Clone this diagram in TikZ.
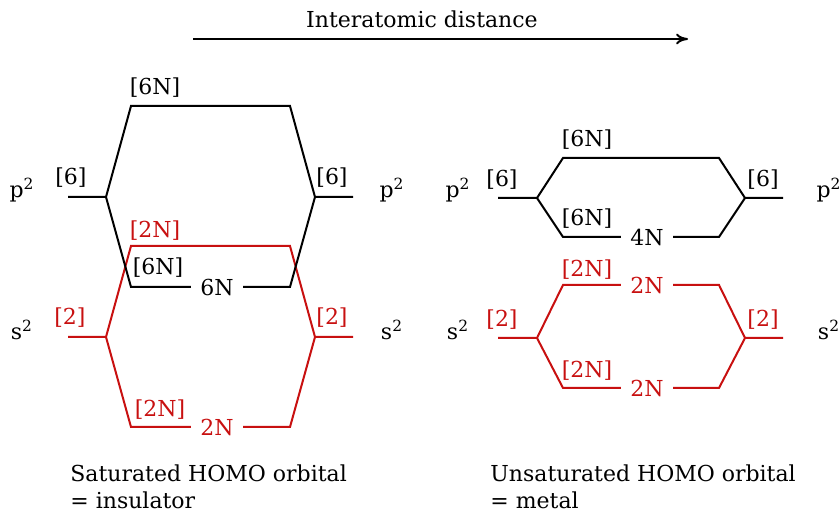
\documentclass[tikz,border=0pt]{standalone}
\usepackage{fontspec}
\setmainfont{DejaVu Serif}
\usepackage{xcolor}
\usepackage{tikz}
\usetikzlibrary{arrows,arrows.meta,calc}
\definecolor{bandred}{RGB}{200,16,16}
\tikzstyle{lvl}=[line width=1pt, line join=miter]
\tikzstyle{pband}=[lvl, draw=black]
\tikzstyle{sband}=[lvl, draw=bandred]
\tikzstyle{occ}=[inner xsep=4.5pt, inner ysep=1pt]
\tikzstyle{occred}=[occ, text=bandred]
\tikzstyle{degred}=[text=bandred]

\begin{document}
\begin{tikzpicture}[x=0.5pt,y=-0.5pt,font=\fontsize{11}{13.5}\selectfont]
\useasboundingbox (0,0) rectangle (840,512);

% distance axis
\coordinate (d0) at (193,39);
\coordinate (d1) at (688,39);
\node (dist) at (422,19) {Interatomic distance};
\draw[-{To[length=6pt,width=5.5pt]}, line width=1pt] (d0) -- (d1);

% saturated: s band
\coordinate (lsa) at (68,337);
\coordinate (lsj) at (106,337);
\coordinate (lst1) at (131,246);
\coordinate (lst2) at (290,246);
\coordinate (lsk) at (315,337);
\coordinate (lsb) at (353,337);
\coordinate (lsb1) at (131,427);
\coordinate (lsb2) at (290,427);
\node[occred] (lsn) at (217,427) {2N};
\draw[sband] (lsa) -- (lsj) -- (lst1) -- (lst2) -- (lsk) -- (lsb);
\draw[sband] (lsj) -- (lsb1) -- (lsn) -- (lsb2) -- (lsk);
\node (ls1) at (22,330) {s\textsuperscript{2}};
\node (ls2) at (392,330) {s\textsuperscript{2}};
\node[degred] (ls2a) at (70,318) {[2]};
\node[degred] (ls2b) at (332,318) {[2]};
\node[degred] (lsup) at (155,231) {[2N]};
\node[degred] (lsdn) at (160,410) {[2N]};

% saturated: p band
\coordinate (lpa) at (68,197);
\coordinate (lpj) at (106,197);
\coordinate (lpt1) at (131,106);
\coordinate (lpt2) at (290,106);
\coordinate (lpk) at (315,197);
\coordinate (lpb) at (353,197);
\coordinate (lpb1) at (131,287);
\coordinate (lpb2) at (290,287);
\node[occ] (lpn) at (217,287) {6N};
\draw[pband] (lpa) -- (lpj) -- (lpt1) -- (lpt2) -- (lpk) -- (lpb);
\draw[pband] (lpj) -- (lpb1) -- (lpn) -- (lpb2) -- (lpk);
\node (lp1) at (22,190) {p\textsuperscript{2}};
\node (lp2) at (392,190) {p\textsuperscript{2}};
\node (lp6a) at (71,178) {[6]};
\node (lp6b) at (332,178) {[6]};
\node (lpup) at (155,88) {[6N]};
\node (lpdn) at (158,268) {[6N]};

% unsaturated: s band
\coordinate (rsa) at (498,338);
\coordinate (rsj) at (537,338);
\coordinate (rst1) at (563,285);
\coordinate (rst2) at (719,285);
\coordinate (rsk) at (745,338);
\coordinate (rsb) at (783,338);
\coordinate (rsb1) at (563,388);
\coordinate (rsb2) at (719,388);
\node[occred] (rsn1) at (647,285) {2N};
\node[occred] (rsn2) at (647,388) {2N};
\draw[sband] (rsa) -- (rsj) -- (rst1) -- (rsn1) -- (rst2) -- (rsk) -- (rsb);
\draw[sband] (rsj) -- (rsb1) -- (rsn2) -- (rsb2) -- (rsk);
\node (rs1) at (458,330) {s\textsuperscript{2}};
\node (rs2) at (829,330) {s\textsuperscript{2}};
\node[degred] (rs2a) at (502,320) {[2]};
\node[degred] (rs2b) at (763,320) {[2]};
\node[degred] (rsup) at (587,270) {[2N]};
\node[degred] (rsdn) at (587,371) {[2N]};

% unsaturated: p band
\coordinate (rpa) at (498,198);
\coordinate (rpj) at (537,198);
\coordinate (rpt1) at (563,158);
\coordinate (rpt2) at (719,158);
\coordinate (rpk) at (745,198);
\coordinate (rpb) at (783,198);
\coordinate (rpb1) at (563,237);
\coordinate (rpb2) at (719,237);
\node[occ] (rpn) at (647,237) {4N};
\draw[pband] (rpa) -- (rpj) -- (rpt1) -- (rpt2) -- (rpk) -- (rpb);
\draw[pband] (rpj) -- (rpb1) -- (rpn) -- (rpb2) -- (rpk);
\node (rp1) at (458,190) {p\textsuperscript{2}};
\node (rp2) at (829,190) {p\textsuperscript{2}};
\node (rp6a) at (502,180) {[6]};
\node (rp6b) at (763,180) {[6]};
\node (rpup) at (587,140) {[6N]};
\node (rpdn) at (587,219) {[6N]};

% captions
\node[anchor=north west, align=left, inner sep=0pt] (capL) at (70,464) {Saturated HOMO orbital\\= insulator};
\node[anchor=north west, align=left, inner sep=0pt] (capR) at (490,464) {Unsaturated HOMO orbital\\= metal};
\end{tikzpicture}
\end{document}
